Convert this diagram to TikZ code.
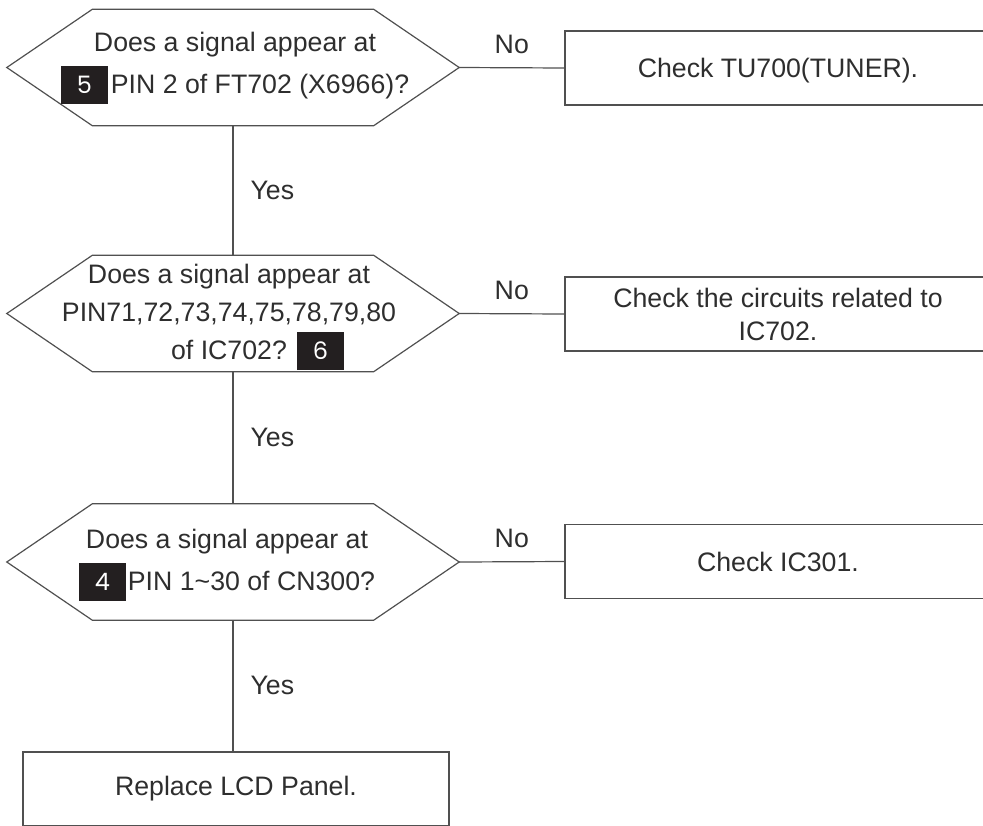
\documentclass[tikz,border=0pt]{standalone}
\usepackage{fontspec}
\setmainfont{Liberation Sans}
\newfontfamily\tagfont{Poppins}

\definecolor{inkgray}{HTML}{2E2E2E}
\definecolor{linegray}{HTML}{505050}
\definecolor{tagblack}{HTML}{231F20}

\newcommand{\numtag}[1]{\makebox[47pt][l]{\textcolor{tagblack}{\rule[-11pt]{47pt}{38pt}}\llap{\makebox[47pt]{\tagfont\fontsize{24}{24}\selectfont\color{white}#1}}}}

\tikzset{
  hexbox/.style={minimum width=452pt,minimum height=116pt,inner sep=0pt},
  qtext/.style={align=center,inner sep=0pt,text=inkgray,font=\fontsize{26.7}{42}\selectfont},
  checkbox/.style={draw=linegray,line width=1.2pt,minimum width=426pt,minimum height=74pt,inner sep=0pt,
    align=center,text=inkgray,font=\fontsize{26.7}{33}\selectfont},
  answer/.style={inner sep=0pt,text=inkgray,font=\fontsize{26.7}{32}\selectfont},
  line/.style={draw=linegray,line width=1.2pt}
}

\begin{document}
\begin{tikzpicture}[x=1pt,y=-1pt]
        \useasboundingbox (0,0) rectangle (983,825);
        \clip (0,0) rectangle (983,825);

        \node[hexbox] (q1) at (233,67.5) {};
        \node[hexbox] (q2) at (233,313.5) {};
        \node[hexbox] (q3) at (233,562) {};
        \foreach \q in {q1,q2,q3} {
          \draw[line] (\q.west) -- ([xshift=85.5pt]\q.north west) -- ([xshift=-85.5pt]\q.north east)
            -- (\q.east) -- ([xshift=-85.5pt]\q.south east) -- ([xshift=85.5pt]\q.south west) -- cycle;
        }

        \node[qtext] (q1txt) at (235,68) {Does a signal appear at\\\numtag{5}\hspace{3pt}PIN 2 of FT702 (X6966)?};
        \node[qtext,font=\fontsize{26.7}{38}\selectfont] (q2txt) at (229,317) {Does a signal appear at\\PIN71,72,73,74,75,78,79,80\\of IC702?\rlap{\hspace{10pt}\numtag{6}}};
        \node[qtext] (q3txt) at (227,565) {Does a signal appear at\\\numtag{4}\hspace{2pt}PIN 1\textasciitilde30 of CN300?};

        \node[checkbox,text depth=0pt] (c1) at (778,68) {Check TU700(TUNER).};
        \node[checkbox] (c2) at (778,314) {Check the circuits related to\\IC702.};
        \node[checkbox] (c3) at (778,561.5) {Check IC301.};
        \node[checkbox] (fin) at (236,789) {Replace LCD Panel.};

        \draw[line] (q1.east) -- (c1.west) node[answer,midway,above=13pt] (no1) {No};
        \draw[line] (q2.east) -- (c2.west) node[answer,midway,above=13pt] (no2) {No};
        \draw[line] (q3.east) -- (c3.west) node[answer,midway,above=13pt] (no3) {No};

        \draw[line] (q1.south) -- (q2.north) node[answer,midway,right=17pt] (yes1) {Yes};
        \draw[line] (q2.south) -- (q3.north) node[answer,midway,right=17pt] (yes2) {Yes};
        \draw[line] (q3.south) -- (q3.south |- fin.north) node[answer,midway,right=17pt] (yes3) {Yes};
      \end{tikzpicture}
\end{document}
